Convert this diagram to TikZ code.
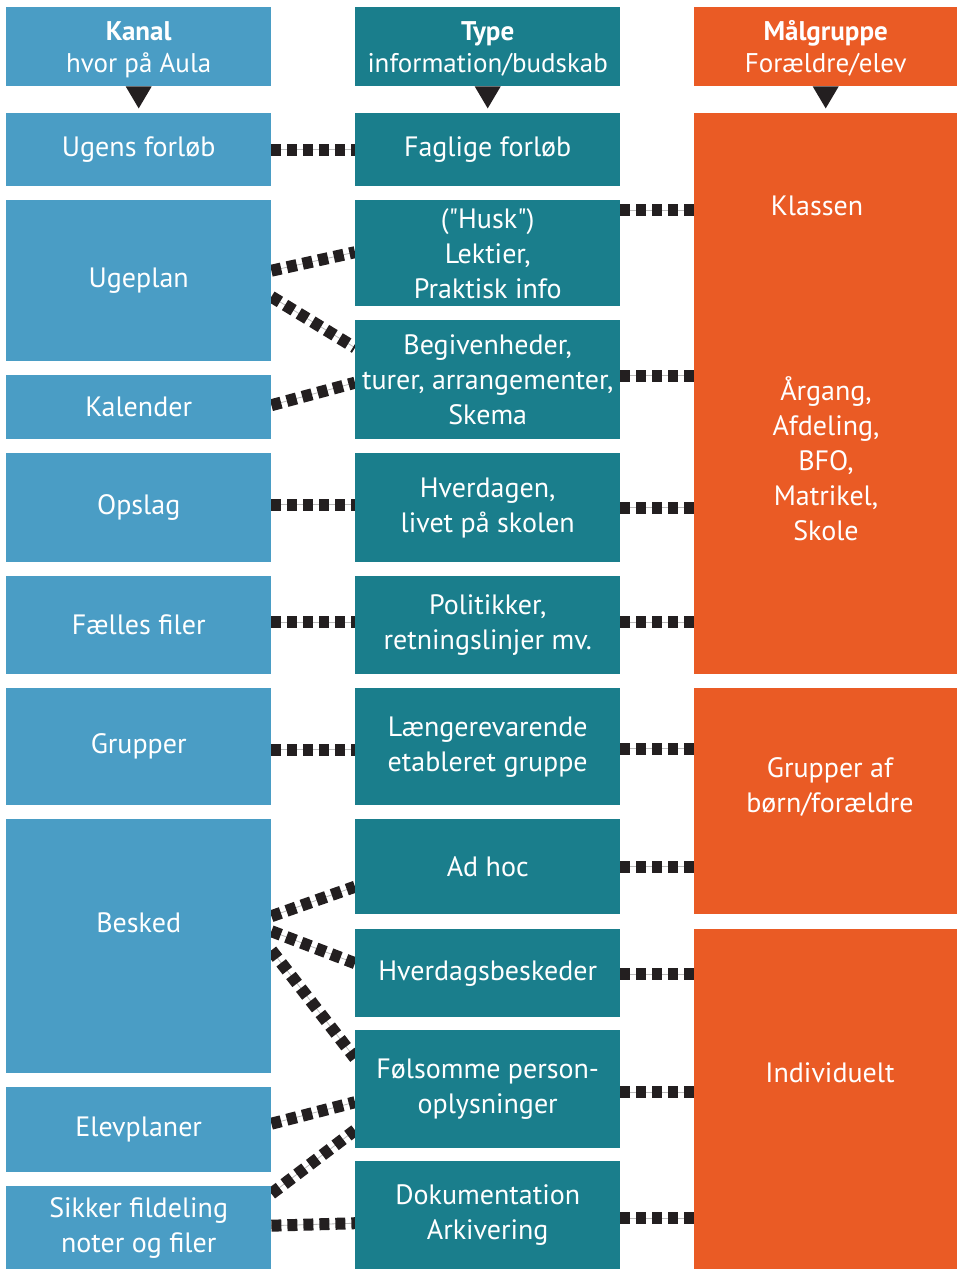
\documentclass[tikz,border=0pt]{standalone}
\usepackage{fontspec}
\setmainfont{PT Sans}[Ligatures=TeXOff]
\usetikzlibrary{backgrounds}
\definecolor{kanalblaa}{HTML}{4A9DC5}
\definecolor{typeteal}{HTML}{1A7E8C}
\definecolor{maalorange}{HTML}{EA5B25}
\definecolor{prikfarve}{HTML}{231F20}
\newcommand{\tekstfont}{\fontsize{28}{35}\selectfont}
\newcommand{\hovedfont}{\fontsize{27}{32}\selectfont}
\tikzset{
  boks/.style={anchor=north west, inner sep=0pt, text=white, align=center, font=\tekstfont},
  kanal/.style={boks, fill=kanalblaa, minimum width=265pt},
  type/.style={boks, fill=typeteal, minimum width=265pt},
  maal/.style={boks, fill=maalorange, minimum width=263pt},
  hoved/.style={minimum height=79pt},
  tekst/.style={text=white, align=center, font=\tekstfont, inner sep=0pt},
  hovedtekst/.style={tekst, font=\hovedfont},
  prik/.style={draw=prikfarve, line width=12pt, dash pattern=on 10pt off 6pt,
    preaction={draw=gray!55, line width=0.8pt, solid}},
  pil/.style={fill=prikfarve}
}
\begin{document}
\begin{tikzpicture}[x=1pt,y=-1pt]
\useasboundingbox (0,0) rectangle (957,1269);
% overskrifter
\node[kanal, hoved] (kanalhead) at (6,7) {};
\node[type, hoved] (typehead) at (355,7) {};
\node[maal, hoved] (maalhead) at (694,7) {};
\node[hovedtekst] (kanaltxt) at ([yshift=-3pt]kanalhead.center) {\textbf{Kanal}\\hvor på Aula};
\node[hovedtekst] (typetxt) at ([yshift=-2pt]typehead.center) {\textbf{Type}\\information/budskab};
\node[hovedtekst] (maaltxt) at ([yshift=-2pt]maalhead.center) {\textbf{Målgruppe}\\Forældre/elev};
\foreach \h in {kanalhead, typehead, maalhead}
    \fill[pil] ([xshift=-13pt]\h.south) -- ([xshift=13pt]\h.south) -- ([yshift=-22pt]\h.south) -- cycle;
% kanal
\node[kanal, minimum height=73pt] (ugens) at (6,113) {Ugens forløb};
\node[kanal, minimum height=161pt] (ugeplan) at (6,200) {Ugeplan};
\node[kanal, minimum height=64pt] (kalender) at (6,375) {Kalender};
\node[kanal, minimum height=109pt] (opslag) at (6,453) {Opslag};
\node[kanal, minimum height=98pt] (faelles) at (6,576) {Fælles filer};
\node[kanal, minimum height=117pt] (grupper) at (6,688) {Grupper};
\node[kanal, minimum height=254pt] (besked) at (6,819) {};
\node[tekst] (beskedtxt) at ([yshift=23pt]besked.center) {Besked};
\node[kanal, minimum height=85pt] (elevplaner) at (6,1087) {Elevplaner};
\node[kanal, minimum height=83pt] (sikker) at (6,1186) {Sikker fildeling\\noter og filer};
% type
\node[type, minimum height=73pt] (faglige) at (355,113) {Faglige forløb};
\node[type, minimum height=106pt] (husk) at (355,200) {("Husk")\\Lektier,\\Praktisk info};
\node[type, minimum height=119pt] (begiv) at (355,320) {Begivenheder,\\turer, arrangementer,\\Skema};
\node[type, minimum height=109pt] (hverdagen) at (355,453) {Hverdagen,\\livet på skolen};
\node[type, minimum height=98pt] (politik) at (355,576) {Politikker,\\retningslinjer mv.};
\node[type, minimum height=117pt] (laenger) at (355,688) {Længerevarende\\etableret gruppe};
\node[type, minimum height=95pt] (adhoc) at (355,819) {Ad hoc};
\node[type, minimum height=88pt] (hverdagsb) at (355,929) {Hverdagsbeskeder};
\node[type, minimum height=118pt] (foelsomme) at (355,1030) {Følsomme person-\\oplysninger};
\node[type, minimum height=108pt] (dokument) at (355,1161) {Dokumentation\\Arkivering};
% maalgruppe
\node[maal, minimum height=561pt] (klasse) at (694,113) {};
\node[tekst] (klassen) at (817,206) {Klassen};
\node[tekst] (aargang) at (826,459) {Årgang,\\Afdeling,\\BFO,\\Matrikel,\\Skole};
\node[maal, minimum height=226pt] (grupperaf) at (694,688) {};
\node[tekst] (grupperaftxt) at (830,787) {Grupper af\\børn/forældre};
\node[maal, minimum height=340pt] (indiv) at (694,929) {};
\node[tekst] (indivtxt) at (830,1073) {Individuelt};
% forbindelser
\begin{scope}[on background layer]
\foreach \a/\sa/\b/\sb in {ugens/0/faglige/0, ugeplan/10/husk/1, ugeplan/-16/begiv/32,
    kalender/2/begiv/-3, opslag/3/hverdagen/3, faelles/3/politik/3, grupper/-3/laenger/-3,
    besked/30/adhoc/-20, besked/15/hverdagsb/10, besked/-4/foelsomme/31,
    elevplaner/6/foelsomme/-13, sikker/34/foelsomme/-41, sikker/2/dokument/-8}
    \draw[prik] ([yshift=\sa pt]\a.east) -- ([yshift=\sb pt]\b.west);
\foreach \a/\s/\b in {husk/43/klasse, begiv/4/klasse, hverdagen/0/klasse, politik/3/klasse,
    laenger/-2/grupperaf, adhoc/0/grupperaf, hverdagsb/-1/indiv, foelsomme/-3/indiv, dokument/-3/indiv}
    \draw[prik] ([yshift=\s pt]\a.east) -- ([yshift=\s pt]\a.east -| \b.west);
\end{scope}
\end{tikzpicture}
\end{document}
